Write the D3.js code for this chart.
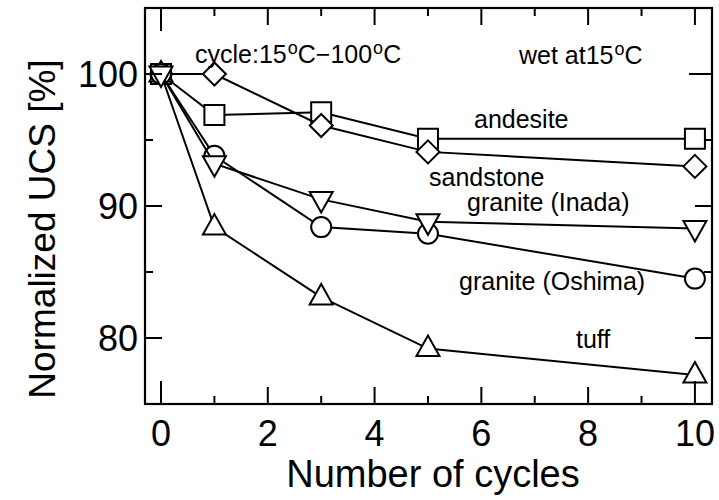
<!DOCTYPE html>
<html>
<head>
<meta charset="utf-8">
<script src="https://cdn.jsdelivr.net/npm/d3@7"></script>
<style>
  html, body { margin: 0; padding: 0; background: #fff; }
  svg { display: block; }
  text { font-family: "Liberation Sans", Arial, Helvetica, sans-serif; fill: #000; }
</style>
</head>
<body>
<svg id="chart" width="719" height="500"></svg>
<script>
// Number of heating/cooling cycles
const cycles = [0, 1, 3, 5, 10];

// Normalized UCS (%) for each rock type
const andesite      = [100, 96.9, 97.1, 95.1, 95.1];
const sandstone     = [100, 100.0, 96.1, 94.1, 93.0];
const graniteOshima = [100, 93.8, 88.4, 87.9, 84.5];
const graniteInada  = [100, 93.2, 90.5, 88.8, 88.3];
const tuff          = [100, 88.4, 83.1, 79.2, 77.2];

// Axis ticks
const xMajorTicks = [0, 2, 4, 6, 8, 10];
const xMinorTicks = [1, 3, 5, 7, 9];
const yMajorTicks = [80, 90, 100];
const yMinorTicks = [85, 95];

const svg = d3.select("#chart");
const plotL = 145, plotR = 712, plotT = 8, plotB = 404;

const x = d3.scaleLinear().domain([-0.3, 10.32]).range([plotL, plotR]);
const y = d3.scaleLinear().domain([75, 105]).range([plotB, plotT]);

// Series in drawing order, each with its marker shape
const series = [
  { name: "andesite",         values: andesite,      shape: "square" },
  { name: "tuff",             values: tuff,          shape: "triUp" },
  { name: "sandstone",        values: sandstone,     shape: "diamond" },
  { name: "granite (Oshima)", values: graniteOshima, shape: "circle" },
  { name: "granite (Inada)",  values: graniteInada,  shape: "triDown" }
];

function markerPath(shape) {
  switch (shape) {
    case "square":  return "M-10,-10H10V10H-10Z";
    case "diamond": return "M0,-11.5L11.5,0L0,11.5L-11.5,0Z";
    case "triUp":   return "M0,-13L11.5,7.5L-11.5,7.5Z";
    case "triDown": return "M0,13L11.5,-7.5L-11.5,-7.5Z";
    case "circle":  return d3.symbol(d3.symbolCircle, Math.PI * 10 * 10)();
  }
}

const line = d3.line().x(d => x(d[0])).y(d => y(d[1]));

const plot = svg.append("g");
series.forEach(s => {
  const pts = cycles.map((c, i) => [c, s.values[i]]);
  const g = plot.append("g").attr("class", "series");
  g.append("path")
    .attr("d", line(pts))
    .attr("fill", "none")
    .attr("stroke", "#000")
    .attr("stroke-width", 2);
  g.selectAll("path.mk").data(pts).join("path")
    .attr("class", "mk")
    .attr("transform", d => `translate(${x(d[0])},${y(d[1])})`)
    .attr("d", markerPath(s.shape))
    .attr("fill", "#fff")
    .attr("stroke", "#000")
    .attr("stroke-width", 2);
});

// Frame
svg.append("rect")
  .attr("x", plotL).attr("y", plotT)
  .attr("width", plotR - plotL).attr("height", plotB - plotT)
  .attr("fill", "none").attr("stroke", "#000").attr("stroke-width", 2.2);

// Inward ticks on all four sides
const ticks = svg.append("g").attr("stroke", "#000").attr("stroke-width", 2);
const majorLen = 17, minorLen = 8, longLen = 23;
xMajorTicks.forEach(v => {
  const lenB = (v === 0 || v === 10) ? longLen : majorLen;
  const lenT = (v === 0) ? longLen : majorLen;
  ticks.append("line").attr("x1", x(v)).attr("x2", x(v)).attr("y1", plotB).attr("y2", plotB - lenB);
  ticks.append("line").attr("x1", x(v)).attr("x2", x(v)).attr("y1", plotT).attr("y2", plotT + lenT);
});
xMinorTicks.forEach(v => {
  ticks.append("line").attr("x1", x(v)).attr("x2", x(v)).attr("y1", plotB).attr("y2", plotB - minorLen);
  ticks.append("line").attr("x1", x(v)).attr("x2", x(v)).attr("y1", plotT).attr("y2", plotT + minorLen);
});
yMajorTicks.forEach(v => {
  const lenR = v === 100 ? longLen : majorLen;
  ticks.append("line").attr("x1", plotL).attr("x2", plotL + majorLen).attr("y1", y(v)).attr("y2", y(v));
  ticks.append("line").attr("x1", plotR).attr("x2", plotR - lenR).attr("y1", y(v)).attr("y2", y(v));
});
yMinorTicks.forEach(v => {
  ticks.append("line").attr("x1", plotL).attr("x2", plotL + minorLen).attr("y1", y(v)).attr("y2", y(v));
  ticks.append("line").attr("x1", plotR).attr("x2", plotR - minorLen).attr("y1", y(v)).attr("y2", y(v));
});

// Tick labels
const tickFont = 36;
svg.append("g").selectAll("text").data(xMajorTicks).join("text")
  .attr("x", d => x(d)).attr("y", 446)
  .attr("text-anchor", "middle")
  .style("font-size", tickFont + "px")
  .text(d => d);
svg.append("g").selectAll("text").data(yMajorTicks).join("text")
  .attr("x", 138).attr("y", d => y(d) + 13)
  .attr("text-anchor", "end")
  .style("font-size", tickFont + "px")
  .text(d => d);

// Axis titles
svg.append("text")
  .attr("x", 433).attr("y", 487)
  .attr("text-anchor", "middle")
  .style("font-size", "38px")
  .text("Number of cycles");
svg.append("text")
  .attr("transform", `translate(55,${229}) rotate(-90)`)
  .attr("text-anchor", "middle")
  .style("font-size", "37px")
  .text("Normalized UCS [%]");

// Test conditions, with raised degree signs
function degreeText(xp, yp, parts) {
  const t = svg.append("text").attr("x", xp).attr("y", yp).style("font-size", "25px");
  parts.forEach(p => {
    if (p.sup) {
      t.append("tspan").attr("dx", 1).attr("dy", -9).style("font-size", "18px").text(p.text);
    } else {
      t.append("tspan").attr("dy", p.after ? 9 : 0).text(p.text);
    }
  });
}
degreeText(195, 63, [
  { text: "cycle:15" }, { text: "o", sup: true }, { text: "C\u2212100", after: true },
  { text: "o", sup: true }, { text: "C", after: true }
]);
degreeText(519, 64, [
  { text: "wet at15" }, { text: "o", sup: true }, { text: "C", after: true }
]);

// Series labels
const seriesLabels = [
  { text: "andesite",         px: 474, py: 128 },
  { text: "sandstone",        px: 429, py: 186 },
  { text: "granite (Inada)",  px: 467, py: 211 },
  { text: "granite (Oshima)", px: 459, py: 290 },
  { text: "tuff",             px: 576, py: 348 }
];
svg.append("g").selectAll("text").data(seriesLabels).join("text")
  .attr("x", d => d.px).attr("y", d => d.py)
  .style("font-size", "25px")
  .text(d => d.text);
</script>
</body>
</html>
